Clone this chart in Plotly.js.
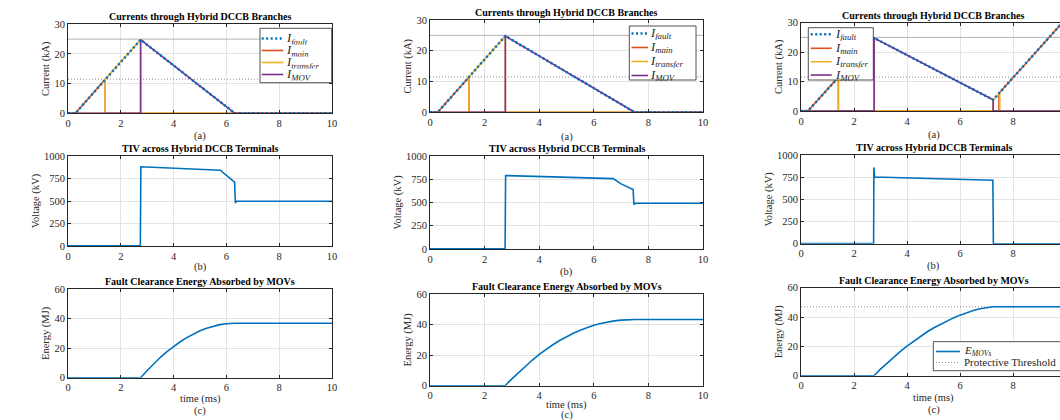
<!DOCTYPE html>
<html><head><meta charset="utf-8">
<script src="https://cdn.plot.ly/plotly-3.0.1.min.js"></script>
<style>html,body{margin:0;padding:0;overflow:hidden;background:#fff}#chart{width:1080px;height:420px}</style>
</head><body><div id="chart"></div>
<script>
// ---------------- DATA ----------------
const xTickVals = [0, 2, 4, 6, 8, 10];
const xTickValsCut = [0, 2, 4, 6, 8];   // right column is cropped before t = 10
const currentTicks = [0, 10, 20, 30];
const voltageTicks = [0, 250, 500, 750, 1000];
const energyTicks = [0, 20, 40, 60];

const ratedCurrent = 25;          // grey solid reference (kA)
const commutationCurrent = 11.5;  // grey dotted reference (kA)
const protectiveThreshold = 47;   // MJ, case C

// Case A (left column)
const faultA_t = [0, 0.28, 2.75, 6.32, 10];
const faultA_i = [0, 0, 24.8, 0, 0];
const mainA_t = [0, 0.28, 1.41, 1.41, 10];
const mainA_i = [0, 0, 11.5, 0, 0];
const transferA_t = [0, 1.41, 1.41, 2.75, 2.75, 10];
const transferA_i = [0, 0, 11.5, 24.8, 0, 0];
const movA_t = [0, 2.75, 2.75, 6.32, 10];
const movA_i = [0, 0, 24.8, 0, 0];
const tivA_t = [0, 2.74, 2.76, 5.77, 6.31, 6.34, 6.38, 10];
const tivA_v = [2, 3, 880, 842, 710, 478, 498, 498];
const energyA_t = [0, 2.75, 3, 3.25, 3.5, 3.75, 4, 4.25, 4.5, 4.75, 5, 5.25, 5.5, 5.75, 6, 6.3, 10];
const energyA_e = [0, 0, 4.9, 9.6, 13.8, 17.7, 21.2, 24.3, 27.1, 29.6, 31.7, 33.5, 34.9, 35.9, 36.5, 36.8, 36.8];

// Case B (middle column)
const faultB_t = [0, 0.28, 2.76, 7.5, 10];
const faultB_i = [0, 0, 24.8, 0, 0];
const mainB_t = [0, 0.28, 1.43, 1.43, 10];
const mainB_i = [0, 0, 11.5, 0, 0];
const transferB_t = [0, 1.43, 1.43, 2.76, 2.76, 10];
const transferB_i = [0, 0, 11.5, 24.8, 0, 0];
const movB_t = [0, 2.76, 2.76, 7.5, 10];
const movB_i = [0, 0, 24.8, 0, 0];
const tivB_t = [0, 2.75, 2.77, 6.71, 7.0, 7.44, 7.47, 7.52, 10];
const tivB_v = [2, 3, 790, 757, 700, 640, 478, 492, 492];
const energyB_t = [0, 2.75, 3, 3.25, 3.5, 3.75, 4, 4.25, 4.5, 4.75, 5, 5.25, 5.5, 5.75, 6, 6.25, 6.5, 6.75, 7, 7.25, 7.5, 10];
const energyB_e = [0, 0, 4.5, 8.8, 12.9, 16.8, 20.5, 23.8, 26.8, 29.6, 32.1, 34.3, 36.3, 38.0, 39.5, 40.7, 41.7, 42.4, 42.9, 43.2, 43.3, 43.3];

// Case C (right column)
const faultC_t = [0, 0.26, 2.76, 7.25, 10];
const faultC_i = [0, 0, 24.8, 3.8, 31.4];
const mainC_t = [0, 0.26, 1.41, 1.41, 7.47, 7.47, 10];
const mainC_i = [0, 0, 11.5, 0, 0, 6.0, 31.4];
const transferC_t = [0, 1.41, 1.41, 2.76, 2.76, 7.25, 7.25, 7.5, 7.5, 10];
const transferC_i = [0, 0, 11.5, 24.8, 0, 0, 3.8, 6.0, 0, 0];
const movC_t = [0, 2.76, 2.76, 7.25, 7.25, 10];
const movC_i = [0, 0, 24.8, 3.8, 0, 0];
const tivC_t = [0, 2.74, 2.75, 2.78, 7.24, 7.26, 10];
const tivC_v = [2, 3, 860, 752, 716, 0, 0];
const energyC_t = [0, 2.75, 3, 3.25, 3.5, 3.75, 4, 4.25, 4.5, 4.75, 5, 5.25, 5.5, 5.75, 6, 6.25, 6.5, 6.75, 7, 7.25, 10];
const energyC_e = [0, 0, 4.5, 8.7, 12.8, 16.6, 20.2, 23.6, 26.8, 29.8, 32.5, 35.0, 37.3, 39.4, 41.3, 43.0, 44.4, 45.6, 46.5, 47.0, 47.0];

const labels = {
  fault: '<i>I</i><sub><i>fault</i></sub>',
  main: '<i>I</i><sub><i>main</i></sub>',
  transfer: '<i>I</i><sub><i>transfer</i></sub>',
  mov: '<i>I</i><sub><i>MOV</i></sub>',
  emov: '<i>E</i><sub><i>MOVs</i></sub>',
  thr: 'Protective Threshold'
};
const panelTitles = ['Currents through Hybrid DCCB Branches', 'TIV across Hybrid DCCB Terminals', 'Fault Clearance Energy Absorbed by MOVs'];
const yTitles = ['Current (kA)', 'Voltage (kV)', 'Energy (MJ)'];
const subLabels = ['(a)', '(b)', '(c)'];
const timeLabel = 'time (ms)';

// ---------------- STYLE / LAYOUT ----------------
const W = 1080, H = 420;
const C = {fault: '#0072BD', main: '#D95319', transfer: '#EDB120', mov: '#7E2F8E'};
const FONT = 'Liberation Serif, Times New Roman, serif';
const INK = '#262626';
const DOTGREY = '#8f8f8f';
// pixel boxes [x0, x1, yTop, yBottom], row-major
const panels = [
  [68, 332, 24.3, 113.3], [430, 703, 20, 112.3], [801, 1066, 22.7, 111],
  [68, 332, 156, 246], [430, 703, 156, 249], [801, 1066, 155, 243.7],
  [68, 332, 289, 377.7], [430, 703, 294, 385.7], [801, 1066, 287.7, 375.7]
];
// vertical offsets (px below axis) of the sub-label and time label
const subOffset = [[22.7, 24.4, 24], [20.7, 22.7, 22.3], [33.3, 29.3, 34.3]];
const timeOffset = [21.3, 19.5, 22.6];
const yRanges = [[0, 30], [0, 1000], [0, 60]];
const yTicks = [currentTicks, voltageTicks, energyTicks];

const layout = {
  width: W, height: H, margin: {l: 0, r: 0, t: 0, b: 0},
  paper_bgcolor: '#fff', plot_bgcolor: '#fff', showlegend: false,
  font: {family: FONT, size: 10.5, color: INK},
  shapes: [], annotations: []
};
const px = x => x / W, py = y => 1 - y / H;
function note(x, y, text, opts) {
  layout.annotations.push(Object.assign({xref: 'paper', yref: 'paper', x: px(x), y: py(y),
    xanchor: 'center', yanchor: 'middle', showarrow: false, text: text, borderpad: 0,
    font: {family: FONT, size: 10.5, color: INK}}, opts || {}));
}

panels.forEach((p, idx) => {
  const k = idx + 1, row = Math.floor(idx / 3), col = idx % 3;
  layout['xaxis' + k] = {
    domain: [px(p[0]), px(p[1])], anchor: 'y' + k, range: [0, 10],
    tickvals: col === 2 ? xTickValsCut : xTickVals, ticks: 'inside', ticklen: 3, tickcolor: INK,
    showline: true, linecolor: INK, linewidth: 1, mirror: 'allticks',
    showgrid: true, gridcolor: '#e3e3e3', gridwidth: 1, zeroline: false,
    tickfont: {family: FONT, size: 10.5, color: INK}, fixedrange: true
  };
  layout['yaxis' + k] = {
    domain: [py(p[3]), py(p[2])], anchor: 'x' + k, range: yRanges[row],
    tickvals: yTicks[row], ticks: 'inside', ticklen: 3, tickcolor: INK,
    showline: true, linecolor: INK, linewidth: 1, mirror: 'allticks',
    showgrid: true, gridcolor: '#e3e3e3', gridwidth: 1, zeroline: false,
    tickfont: {family: FONT, size: 10.5, color: INK},
    title: {text: yTitles[row], font: {family: FONT, size: 10.5, color: INK}, standoff: 2},
    fixedrange: true
  };
  const tx = (p[0] + p[1]) / 2;
  const tight = (row === 2 && col === 1) ? {height: 10} : {};
  note(tx, p[2] - 7.5, '<b>' + panelTitles[row] + '</b>', {font: {family: FONT, size: 10, color: '#000'}});
  if (row === 2) note(tx, p[3] + timeOffset[col], timeLabel, tight);
  note(tx, p[3] + subOffset[row][col], subLabels[row], tight);
});

// ---------------- TRACES ----------------
const traces = [];
function line(k, x, y, color, width, dash) {
  traces.push({type: 'scatter', mode: 'lines', x: x, y: y, xaxis: 'x' + k, yaxis: 'y' + k,
    line: {color: color, width: width, dash: dash || 'solid'}, hoverinfo: 'skip', showlegend: false});
}
const cases = [
  {f: [faultA_t, faultA_i], m: [mainA_t, mainA_i], tr: [transferA_t, transferA_i], mv: [movA_t, movA_i], v: [tivA_t, tivA_v], e: [energyA_t, energyA_e]},
  {f: [faultB_t, faultB_i], m: [mainB_t, mainB_i], tr: [transferB_t, transferB_i], mv: [movB_t, movB_i], v: [tivB_t, tivB_v], e: [energyB_t, energyB_e]},
  {f: [faultC_t, faultC_i], m: [mainC_t, mainC_i], tr: [transferC_t, transferC_i], mv: [movC_t, movC_i], v: [tivC_t, tivC_v], e: [energyC_t, energyC_e]}
];
const FAULTDASH = '2px,2.5px', GREYDOT = '1px,2px';
cases.forEach((c, col) => {
  const k1 = col + 1, k2 = col + 4, k3 = col + 7;
  line(k1, [0, 10], [ratedCurrent, ratedCurrent], '#b5b5b5', 1);
  line(k1, [0, 10], [commutationCurrent, commutationCurrent], DOTGREY, 1, GREYDOT);
  line(k1, c.m[0], c.m[1], C.main, 1.6);
  line(k1, c.tr[0], c.tr[1], C.transfer, 1.6);
  line(k1, c.mv[0], c.mv[1], C.mov, 1.6);
  line(k1, c.f[0], c.f[1], C.fault, 2.5, FAULTDASH);
  line(k2, c.v[0], c.v[1], C.fault, 1.6);
  if (col === 2) line(k3, [0, 10], [protectiveThreshold, protectiveThreshold], DOTGREY, 1, GREYDOT);
  line(k3, c.e[0], c.e[1], C.fault, 1.6);
});

// ---------------- LEGENDS (drawn in layout) ----------------
function legend(box, sx0, sx1, tx, rows, fs, rowH) {
  layout.shapes.push({type: 'rect', xref: 'paper', yref: 'paper', layer: 'above',
    x0: px(box[0]), x1: px(box[1]), y0: py(box[3]), y1: py(box[2]),
    line: {color: INK, width: 0.8}, fillcolor: '#fff'});
  rows.forEach(r => {
    layout.shapes.push({type: 'line', xref: 'paper', yref: 'paper', layer: 'above',
      x0: px(sx0), x1: px(sx1), y0: py(r.y), y1: py(r.y),
      line: {color: r.color, width: r.width, dash: r.dash || 'solid'}});
    layout.annotations.push({xref: 'paper', yref: 'paper', x: px(tx), y: py(r.y),
      xanchor: 'left', yanchor: 'middle', showarrow: false, text: r.text, borderpad: 0,
      height: rowH, valign: 'middle',
      font: {family: FONT, size: fs, color: INK}});
  });
}
function currentRows(ys) {
  return [
    {y: ys[0], color: C.fault, width: 2.5, dash: FAULTDASH, text: labels.fault},
    {y: ys[1], color: C.main, width: 1.6, text: labels.main},
    {y: ys[2], color: C.transfer, width: 1.6, text: labels.transfer},
    {y: ys[3], color: C.mov, width: 1.6, text: labels.mov}
  ];
}
legend([260, 331.7, 28.3, 82.7], 261.7, 283.3, 285, currentRows([38.5, 50.5, 62.5, 74.5]), 12.5, 11.5);
legend([629.3, 696, 26, 80], 631.5, 648, 649, currentRows([33.5, 47.5, 61.5, 75.5]), 12.5, 13);
legend([808.3, 873.3, 27.7, 80], 810.7, 831.7, 833.5, currentRows([34.3, 48.3, 61.7, 75]), 12.5, 13);
legend([933.3, 1075, 341.7, 370.7], 936, 960, 962.5, [
  {y: 351.5, color: C.fault, width: 1.6, text: labels.emov},
  {y: 362.5, color: DOTGREY, width: 1, dash: GREYDOT, text: labels.thr}
], 11, 10.5);

Plotly.newPlot('chart', traces, layout, {staticPlot: true, displayModeBar: false});
</script></body></html>
